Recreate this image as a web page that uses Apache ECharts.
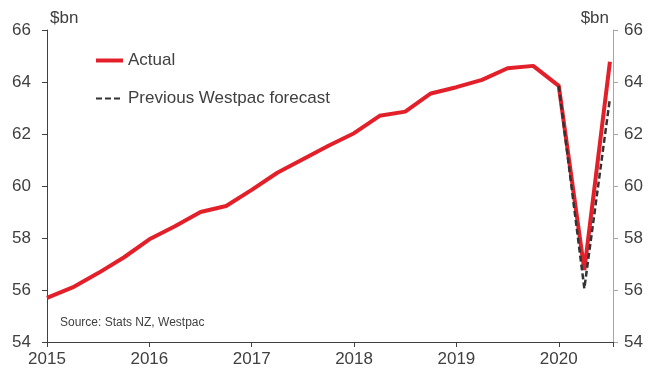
<!DOCTYPE html>
<html>
<head>
<meta charset="utf-8">
<script src="https://cdn.jsdelivr.net/npm/echarts@6/dist/echarts.min.js"></script>
<style>
  html, body { margin: 0; padding: 0; background: #fff; }
  #chart { width: 652px; height: 371px; }
</style>
</head>
<body>
<div id="chart"></div>
<script>
// quarterly, Mar 2015 - Sep 2020
const quarters = [
  '2015Q1', '2015Q2', '2015Q3', '2015Q4',
  '2016Q1', '2016Q2', '2016Q3', '2016Q4',
  '2017Q1', '2017Q2', '2017Q3', '2017Q4',
  '2018Q1', '2018Q2', '2018Q3', '2018Q4',
  '2019Q1', '2019Q2', '2019Q3', '2019Q4',
  '2020Q1', '2020Q2', '2020Q3'
]
// $bn
const actual = [
  55.70, 56.10, 56.65, 57.25,
  57.95, 58.45, 59.00, 59.23,
  59.85, 60.51, 61.03, 61.55,
  62.03, 62.70, 62.86, 63.56,
  63.80, 64.08, 64.53, 64.62,
  63.85, 56.77, 64.78
]
const forecast = [
  null, null, null, null,
  null, null, null, null,
  null, null, null, null,
  null, null, null, null,
  null, null, null, null,
  63.85, 56.06, 63.37
]
const yTicks = { min: 54, max: 66, step: 2 }

const textColor = '#404040'
const font = 'Liberation Sans, Arial, sans-serif'

const chart = echarts.init(document.getElementById('chart'))

const toPoints = arr => arr.map((v, i) => [i, v])

const yAxisBase = {
  type: 'value',
  min: yTicks.min,
  max: yTicks.max,
  interval: yTicks.step,
  splitLine: { show: false },
  name: '$bn',
  nameLocation: 'end'
}

chart.setOption({
  animation: false,
  grid: { left: 47, right: 39, top: 30, bottom: 29 },
  legend: {
    orient: 'vertical',
    left: 94,
    top: 52,
    padding: 0,
    itemWidth: 27,
    itemHeight: 14,
    itemGap: 21,
    itemStyle: { opacity: 0 },
    textStyle: { fontSize: 17, color: textColor, fontFamily: font },
    data: [
      { name: 'Actual', lineStyle: { width: 4 } },
      { name: 'Previous Westpac forecast', lineStyle: { width: 2 } }
    ]
  },
  xAxis: {
    type: 'value',
    min: 0,
    max: 22.12,
    interval: 4,
    splitLine: { show: false },
    axisLine: { lineStyle: { color: '#404040', width: 1 } },
    axisTick: { show: true, length: 5, lineStyle: { color: '#404040' } },
    axisLabel: {
      margin: 9,
      fontSize: 17,
      color: textColor,
      fontFamily: font,
      formatter: v => (Number.isInteger(v) && v % 4 === 0 && quarters[v]) ? quarters[v].slice(0, 4) : ''
    }
  },
  yAxis: [
    Object.assign({}, yAxisBase, {
      position: 'left',
      axisLine: { show: true, lineStyle: { color: '#404040', width: 1 } },
      axisTick: { show: true, length: 5, lineStyle: { color: '#404040' } },
      axisLabel: { margin: 16, fontSize: 17, color: textColor, fontFamily: font },
      nameGap: 3,
      nameTextStyle: { fontSize: 17, color: textColor, fontFamily: font, align: 'left', padding: [0, 0, 0, 3] }
    }),
    Object.assign({}, yAxisBase, {
      position: 'right',
      axisLine: { show: true, lineStyle: { color: '#a6a6a6', width: 1 } },
      axisTick: { show: true, length: 5, lineStyle: { color: '#a6a6a6' } },
      axisLabel: { margin: 11, fontSize: 17, color: textColor, fontFamily: font },
      nameGap: 3,
      nameTextStyle: { fontSize: 17, color: textColor, fontFamily: font, align: 'right', padding: [0, 4, 0, 0] }
    })
  ],
  graphic: [
    {
      type: 'text',
      left: 60,
      top: 317,
      style: { text: 'Source: Stats NZ, Westpac', fontSize: 12, fill: textColor, font: '12px ' + font }
    }
  ],
  series: [
    {
      name: 'Actual',
      type: 'line',
      data: toPoints(actual),
      symbol: 'none',
      color: '#e3202a',
      lineStyle: { width: 4, color: '#e3202a' }
    },
    {
      name: 'Previous Westpac forecast',
      type: 'line',
      data: toPoints(forecast),
      symbol: 'none',
      color: '#333333',
      lineStyle: { width: 2.5, color: '#333333', type: [6, 3] }
    }
  ]
})
</script>
</body>
</html>
